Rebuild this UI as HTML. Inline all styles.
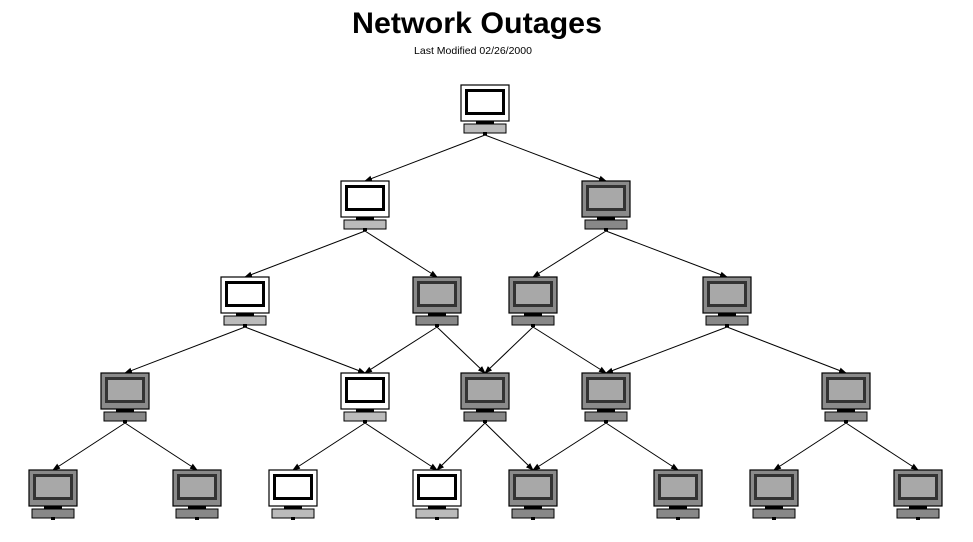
<!DOCTYPE html>
<html><head><meta charset="utf-8"><style>
html,body{margin:0;padding:0;background:#fff;width:973px;height:542px;overflow:hidden}
svg{display:block}
</style></head><body>
<svg width="973" height="542" viewBox="0 0 973 542" xmlns="http://www.w3.org/2000/svg">
<defs>
<marker id="ar" markerWidth="8" markerHeight="8" refX="7" refY="4" orient="auto" markerUnits="userSpaceOnUse">
<path d="M0,1 L8,4 L0,7 z" fill="#000"/>
</marker>
<g id="w">
<rect x="-24" y="0" width="48" height="36" fill="#fff" stroke="#000" stroke-width="1.2"/>
<rect x="-18.5" y="5.5" width="37" height="23" fill="#fff" stroke="#000" stroke-width="3"/>
<rect x="-9" y="36" width="18" height="3" fill="#000"/>
<rect x="-21" y="39" width="42" height="9" fill="#bbb" stroke="#000"/>
<rect x="-2" y="47" width="4" height="3" fill="#000"/>
</g>
<g id="g">
<rect x="-24" y="0" width="48" height="36" fill="#8a8a8a" stroke="#000" stroke-width="1.2"/>
<rect x="-18.5" y="5.5" width="37" height="23" fill="#a8a8a8" stroke="#333" stroke-width="3"/>
<rect x="-9" y="36" width="18" height="3" fill="#000"/>
<rect x="-21" y="39" width="42" height="9" fill="#888" stroke="#000"/>
<rect x="-2" y="47" width="4" height="3" fill="#000"/>
</g>
</defs>
<text x="477" y="33" font-family="Liberation Sans, sans-serif" font-size="30" font-weight="bold" text-anchor="middle" textLength="250" lengthAdjust="spacingAndGlyphs">Network Outages</text>
<text x="473" y="54" font-family="Liberation Sans, sans-serif" font-size="10.5" text-anchor="middle">Last Modified 02/26/2000</text>
<g stroke="#000" stroke-width="1" marker-end="url(#ar)">
<line x1="485" y1="135" x2="365" y2="181"/><line x1="485" y1="135" x2="606" y2="181"/>
<line x1="365" y1="231" x2="245" y2="277"/><line x1="365" y1="231" x2="437" y2="277"/>
<line x1="606" y1="231" x2="533" y2="277"/><line x1="606" y1="231" x2="727" y2="277"/>
<line x1="245" y1="327" x2="125" y2="373"/><line x1="245" y1="327" x2="365" y2="373"/>
<line x1="437" y1="327" x2="365" y2="373"/><line x1="437" y1="327" x2="485" y2="373"/>
<line x1="533" y1="327" x2="485" y2="373"/><line x1="533" y1="327" x2="606" y2="373"/>
<line x1="727" y1="327" x2="606" y2="373"/><line x1="727" y1="327" x2="846" y2="373"/>
<line x1="125" y1="423" x2="53" y2="470"/><line x1="125" y1="423" x2="197" y2="470"/>
<line x1="365" y1="423" x2="293" y2="470"/><line x1="365" y1="423" x2="437" y2="470"/>
<line x1="485" y1="423" x2="437" y2="470"/><line x1="485" y1="423" x2="533" y2="470"/>
<line x1="606" y1="423" x2="533" y2="470"/><line x1="606" y1="423" x2="678" y2="470"/>
<line x1="846" y1="423" x2="774" y2="470"/><line x1="846" y1="423" x2="918" y2="470"/>
</g>
<use href="#w" x="485" y="85"/>
<use href="#w" x="365" y="181"/><use href="#g" x="606" y="181"/>
<use href="#w" x="245" y="277"/><use href="#g" x="437" y="277"/><use href="#g" x="533" y="277"/><use href="#g" x="727" y="277"/>
<use href="#g" x="125" y="373"/><use href="#w" x="365" y="373"/><use href="#g" x="485" y="373"/><use href="#g" x="606" y="373"/><use href="#g" x="846" y="373"/>
<use href="#g" x="53" y="470"/><use href="#g" x="197" y="470"/><use href="#w" x="293" y="470"/><use href="#w" x="437" y="470"/><use href="#g" x="533" y="470"/><use href="#g" x="678" y="470"/><use href="#g" x="774" y="470"/><use href="#g" x="918" y="470"/>
</svg>
</body></html>
